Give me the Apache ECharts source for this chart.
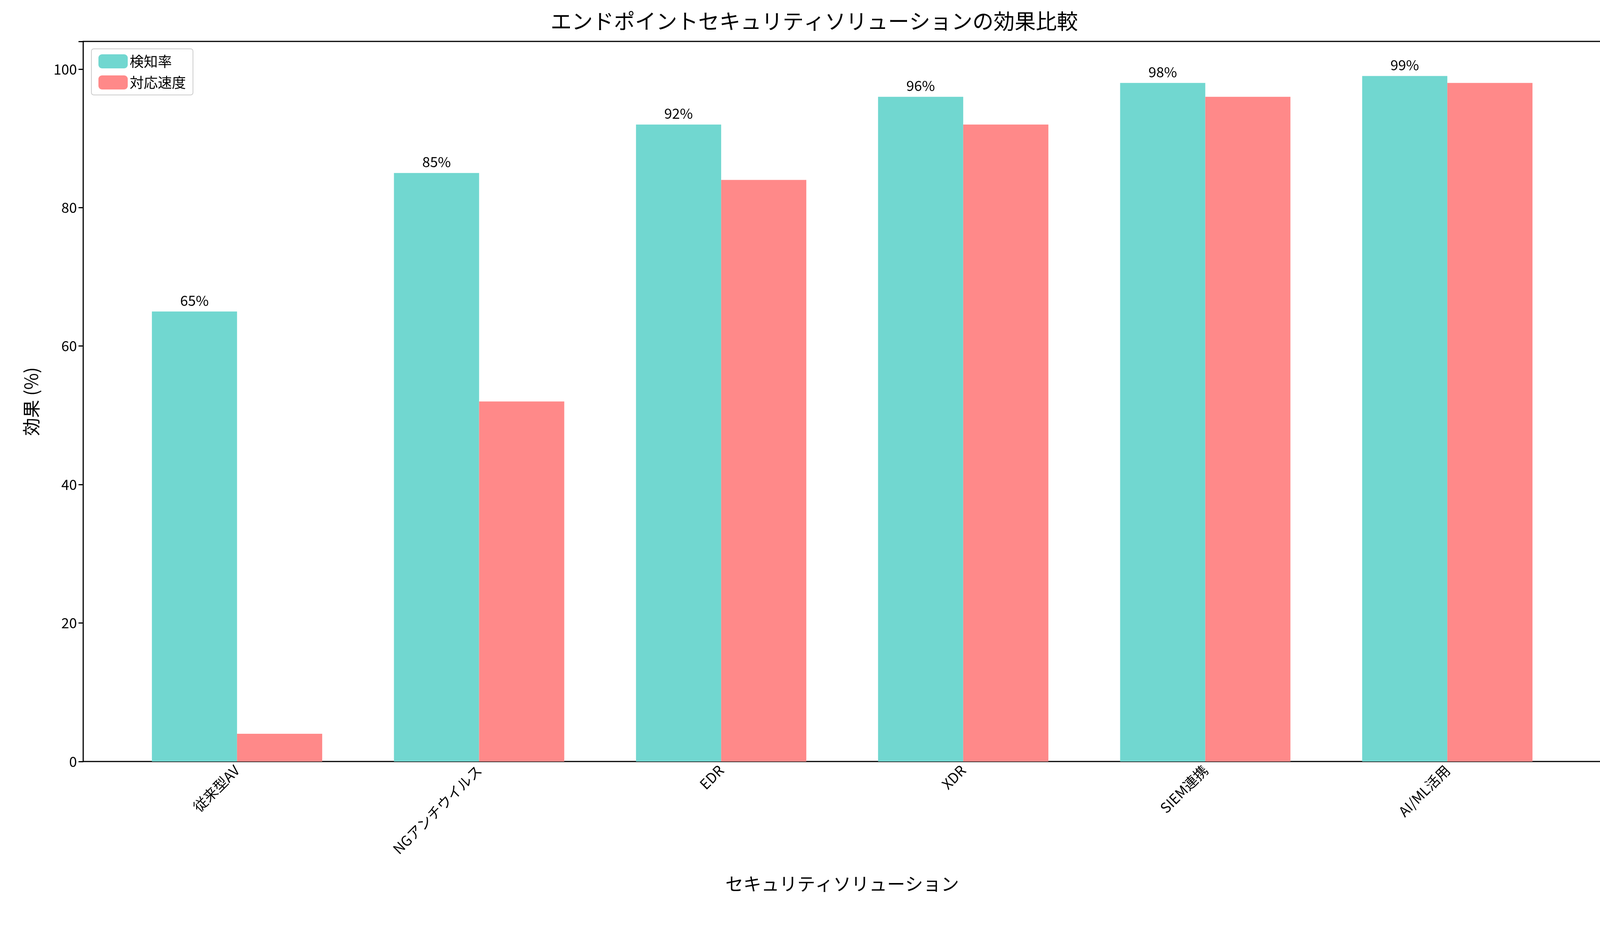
<!DOCTYPE html>
<html><head><meta charset="utf-8">
<script src="https://cdn.jsdelivr.net/npm/echarts@6/dist/echarts.min.js"></script>
<style>html,body{margin:0;padding:0;background:#fff}#c{width:4169px;height:2370px}</style>
</head><body><div id="c"></div>
<script>
const categories = ['従来型AV','NGアンチウイルス','EDR','XDR','SIEM連携','AI/ML活用'];
const detection = [65,85,92,96,98,99];
const response = [4,52,84,92,96,98];
const yTicks = [0,20,40,60,80,100];
const F = 'Noto Sans CJK JP, Noto Sans, sans-serif';
const chart = echarts.init(document.getElementById('c'));
chart.setOption({
  animation:false,
  textStyle:{fontFamily:F},
  title:{text:'エンドポイントセキュリティソリューションの効果比較',left:'center',top:22,
    textStyle:{fontSize:54,fontWeight:'normal',color:'#000',fontFamily:F}},
  legend:{left:234,top:125,orient:'vertical',itemWidth:75,itemHeight:36,itemGap:18,
    padding:[14,18],borderColor:'#ccc',borderWidth:2,borderRadius:6,backgroundColor:'#fff',
    textStyle:{fontSize:36,fontFamily:F,color:'#000'},data:['検知率','対応速度']},
  grid:[
    {left:297,right:154,top:106,bottom:421},
    {left:213,right:69,top:106,bottom:421,show:true,borderColor:'#000',borderWidth:3,backgroundColor:'transparent'}
  ],
  xAxis:[
    {type:'category',gridIndex:0,data:categories,
      axisLine:{show:false},
      axisTick:{alignWithLabel:true,length:12,lineStyle:{color:'#000',width:3}},
      axisLabel:{rotate:45,fontSize:36,color:'#000',margin:16,fontFamily:F},
      name:'セキュリティソリューション',nameLocation:'middle',nameGap:290,
      nameTextStyle:{fontSize:46,color:'#000',fontFamily:F}},
    {type:'value',gridIndex:1,show:false,min:0,max:1}
  ],
  yAxis:[
    {type:'value',gridIndex:0,min:0,max:104,show:false},
    {type:'value',gridIndex:1,min:0,max:104,interval:20,
      axisLine:{show:false},splitLine:{show:false},
      axisTick:{show:true,length:12,lineStyle:{color:'#000',width:3}},
      axisLabel:{fontSize:36,color:'#000',margin:16,fontFamily:F,
        formatter:v=>yTicks.includes(v)?String(v):''},
      name:'効果 (%)',nameLocation:'middle',nameGap:110,
      nameTextStyle:{fontSize:46,color:'#000',fontFamily:F}}
  ],
  series:[
    {name:'検知率',type:'bar',xAxisIndex:0,yAxisIndex:0,data:detection,barWidth:218,barGap:'0%',
      itemStyle:{color:'#71d7d0'},
      label:{show:true,position:'top',formatter:'{c}%',fontSize:36,color:'#000',distance:10,fontFamily:F}},
    {name:'対応速度',type:'bar',xAxisIndex:0,yAxisIndex:0,data:response,barWidth:218,barGap:'0%',
      itemStyle:{color:'#ff8989'}}
  ]
});
</script></body></html>
